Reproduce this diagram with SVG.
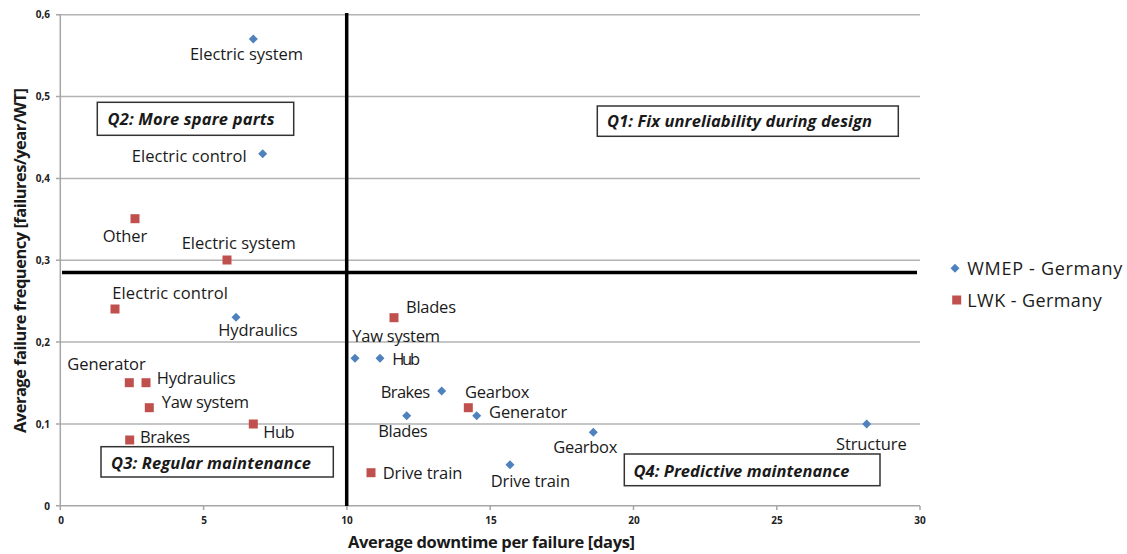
<svg xmlns="http://www.w3.org/2000/svg" width="1127" height="554" viewBox="0 0 1127 554">
<style>
.grid{stroke:#b3b3b3;stroke-width:1.5;fill:none}
.axis{stroke:#a6a6a6;stroke-width:1.5;fill:none}
.thick{stroke:#000;stroke-width:3.5;fill:none}
.tick{font-family:"Open Sans","Liberation Sans",sans-serif;font-size:10px;font-weight:bold;fill:#222}
.lbl{font-family:"Open Sans","Liberation Sans",sans-serif;font-size:16.5px;fill:#1a1a1a}
.title{font-family:"Open Sans","Liberation Sans",sans-serif;font-size:16.5px;font-weight:bold;fill:#1a1a1a}
.qbox{fill:#fff;stroke:#333;stroke-width:1.5}
.qtxt{font-family:"Open Sans","Liberation Sans",sans-serif;font-size:16.5px;font-weight:bold;font-style:italic;fill:#1a1a1a}
.leg{font-family:"Open Sans","Liberation Sans",sans-serif;font-size:18px;fill:#1a1a1a}
.wmep{fill:#4f81bd}
.lwk{fill:#c0504d}
</style>
<defs>
<path id="dia" d="M0,-4.5 L4.5,0 L0,4.5 L-4.5,0 Z"/>
<rect id="sq" x="-4.5" y="-4.5" width="9" height="9"/>
</defs>
<rect width="1127" height="554" fill="#fff"/>
<g id="gridlines">
<line class="grid" x1="60" y1="14.7" x2="920" y2="14.7"/>
<line class="grid" x1="60" y1="96.6" x2="920" y2="96.6"/>
<line class="grid" x1="60" y1="178.4" x2="920" y2="178.4"/>
<line class="grid" x1="60" y1="260.2" x2="920" y2="260.2"/>
<line class="grid" x1="60" y1="342" x2="920" y2="342"/>
<line class="grid" x1="60" y1="423.9" x2="920" y2="423.9"/>
</g>
<g id="axes">
<line class="axis" x1="60.3" y1="14" x2="60.3" y2="506"/>
<line class="axis" x1="60" y1="505.7" x2="920" y2="505.7"/>
<path class="axis" d="M56,14.7H60M56,96.6H60M56,178.4H60M56,260.2H60M56,342H60M56,423.9H60M56,505.7H60"/>
<path class="axis" d="M60.3,506V510M203.6,506V510M346.9,506V510M490.2,506V510M633.5,506V510M776.8,506V510M920,506V510"/>
<g class="tick" text-anchor="end">
<text x="50" y="18">0,6</text>
<text x="50" y="100">0,5</text>
<text x="50" y="182">0,4</text>
<text x="50" y="264">0,3</text>
<text x="50" y="346">0,2</text>
<text x="50" y="428">0,1</text>
<text x="50" y="509.5">0</text>
</g>
<g class="tick" text-anchor="middle">
<text x="61" y="524">0</text>
<text x="204" y="524">5</text>
<text x="347" y="524">10</text>
<text x="491" y="524">15</text>
<text x="634" y="524">20</text>
<text x="777" y="524">25</text>
<text x="920" y="524">30</text>
</g>
<text class="title" x="348" y="548" textLength="287">Average downtime per failure [days]</text>
<text class="title" transform="translate(26,433) rotate(-90)" x="0" y="0" textLength="345">Average failure frequency [failures/year/WT]</text>
</g>
<g id="quadrant-lines">
<line class="thick" x1="346.7" y1="13" x2="346.7" y2="506"/>
<line class="thick" x1="62" y1="272.5" x2="917" y2="272.5"/>
</g>
<g id="q1"><rect class="qbox" x="597.3" y="106" width="301" height="30.3"/><text class="qtxt" x="607" y="127" textLength="265">Q1: Fix unreliability during design</text></g>
<g id="q2"><rect class="qbox" x="97.3" y="102.3" width="196.4" height="33"/><text class="qtxt" x="107.5" y="125" textLength="167">Q2: More spare parts</text></g>
<g id="q3"><rect class="qbox" x="101" y="446.7" width="232.3" height="30.3"/><text class="qtxt" x="111" y="468.5" textLength="200">Q3: Regular maintenance</text></g>
<g id="q4"><rect class="qbox" x="624.3" y="454" width="255.7" height="31.7"/><text class="qtxt" x="633.5" y="476.5" textLength="216">Q4: Predictive maintenance</text></g>
<g id="wmep-points" class="wmep">
<use href="#dia" x="253.3" y="39"/>
<use href="#dia" x="262.7" y="153.7"/>
<use href="#dia" x="236" y="317.3"/>
<use href="#dia" x="355" y="358.3"/>
<use href="#dia" x="380" y="358.3"/>
<use href="#dia" x="441.7" y="391"/>
<use href="#dia" x="406.7" y="415.7"/>
<use href="#dia" x="476.7" y="415.7"/>
<use href="#dia" x="593.3" y="432.3"/>
<use href="#dia" x="510" y="464.7"/>
<use href="#dia" x="866.7" y="424"/>
</g>
<g id="lwk-points" class="lwk">
<use href="#sq" x="135" y="218.7"/>
<use href="#sq" x="227" y="260"/>
<use href="#sq" x="115" y="309"/>
<use href="#sq" x="129.3" y="382.7"/>
<use href="#sq" x="146" y="382.7"/>
<use href="#sq" x="149.3" y="407.7"/>
<use href="#sq" x="253.3" y="424"/>
<use href="#sq" x="129.7" y="440"/>
<use href="#sq" x="394" y="317.7"/>
<use href="#sq" x="468.3" y="407.7"/>
<use href="#sq" x="371" y="472.7"/>
</g>
<g id="labels" class="lbl">
<text x="190" y="59.5" textLength="113">Electric system</text>
<text x="131.7" y="161.5" textLength="115">Electric control</text>
<text x="102.7" y="241.5" textLength="44.6">Other</text>
<text x="181.7" y="249" textLength="114">Electric system</text>
<text x="112.3" y="299" textLength="115.7">Electric control</text>
<text x="218.3" y="336" textLength="79.4">Hydraulics</text>
<text x="67.3" y="370" textLength="78.4">Generator</text>
<text x="156.7" y="384.3" textLength="79">Hydraulics</text>
<text x="161.7" y="408.3" textLength="87.3">Yaw system</text>
<text x="263.3" y="438.3" textLength="31.4">Hub</text>
<text x="140" y="443.3" textLength="50">Brakes</text>
<text x="406" y="313.3" textLength="50">Blades</text>
<text x="352.3" y="342" textLength="87.7">Yaw system</text>
<text x="392.3" y="364.5" textLength="27.7">Hub</text>
<text x="380.7" y="398.3" textLength="49.3">Brakes</text>
<text x="465" y="397.7" textLength="64.3">Gearbox</text>
<text x="489" y="418.3" textLength="78.3">Generator</text>
<text x="378.3" y="437.3" textLength="49.4">Blades</text>
<text x="553.3" y="453.3" textLength="64">Gearbox</text>
<text x="382.7" y="479.3" textLength="79.6">Drive train</text>
<text x="490.7" y="486.7" textLength="79.3">Drive train</text>
<text x="836" y="450" textLength="70.7">Structure</text>
</g>
<g id="legend">
<use href="#dia" class="wmep" x="955" y="268.3"/>
<text class="leg" x="967.3" y="274.5" textLength="155">WMEP - Germany</text>
<use href="#sq" class="lwk" x="956.7" y="300"/>
<text class="leg" x="967.3" y="307" textLength="134.4">LWK - Germany</text>
</g>
</svg>
